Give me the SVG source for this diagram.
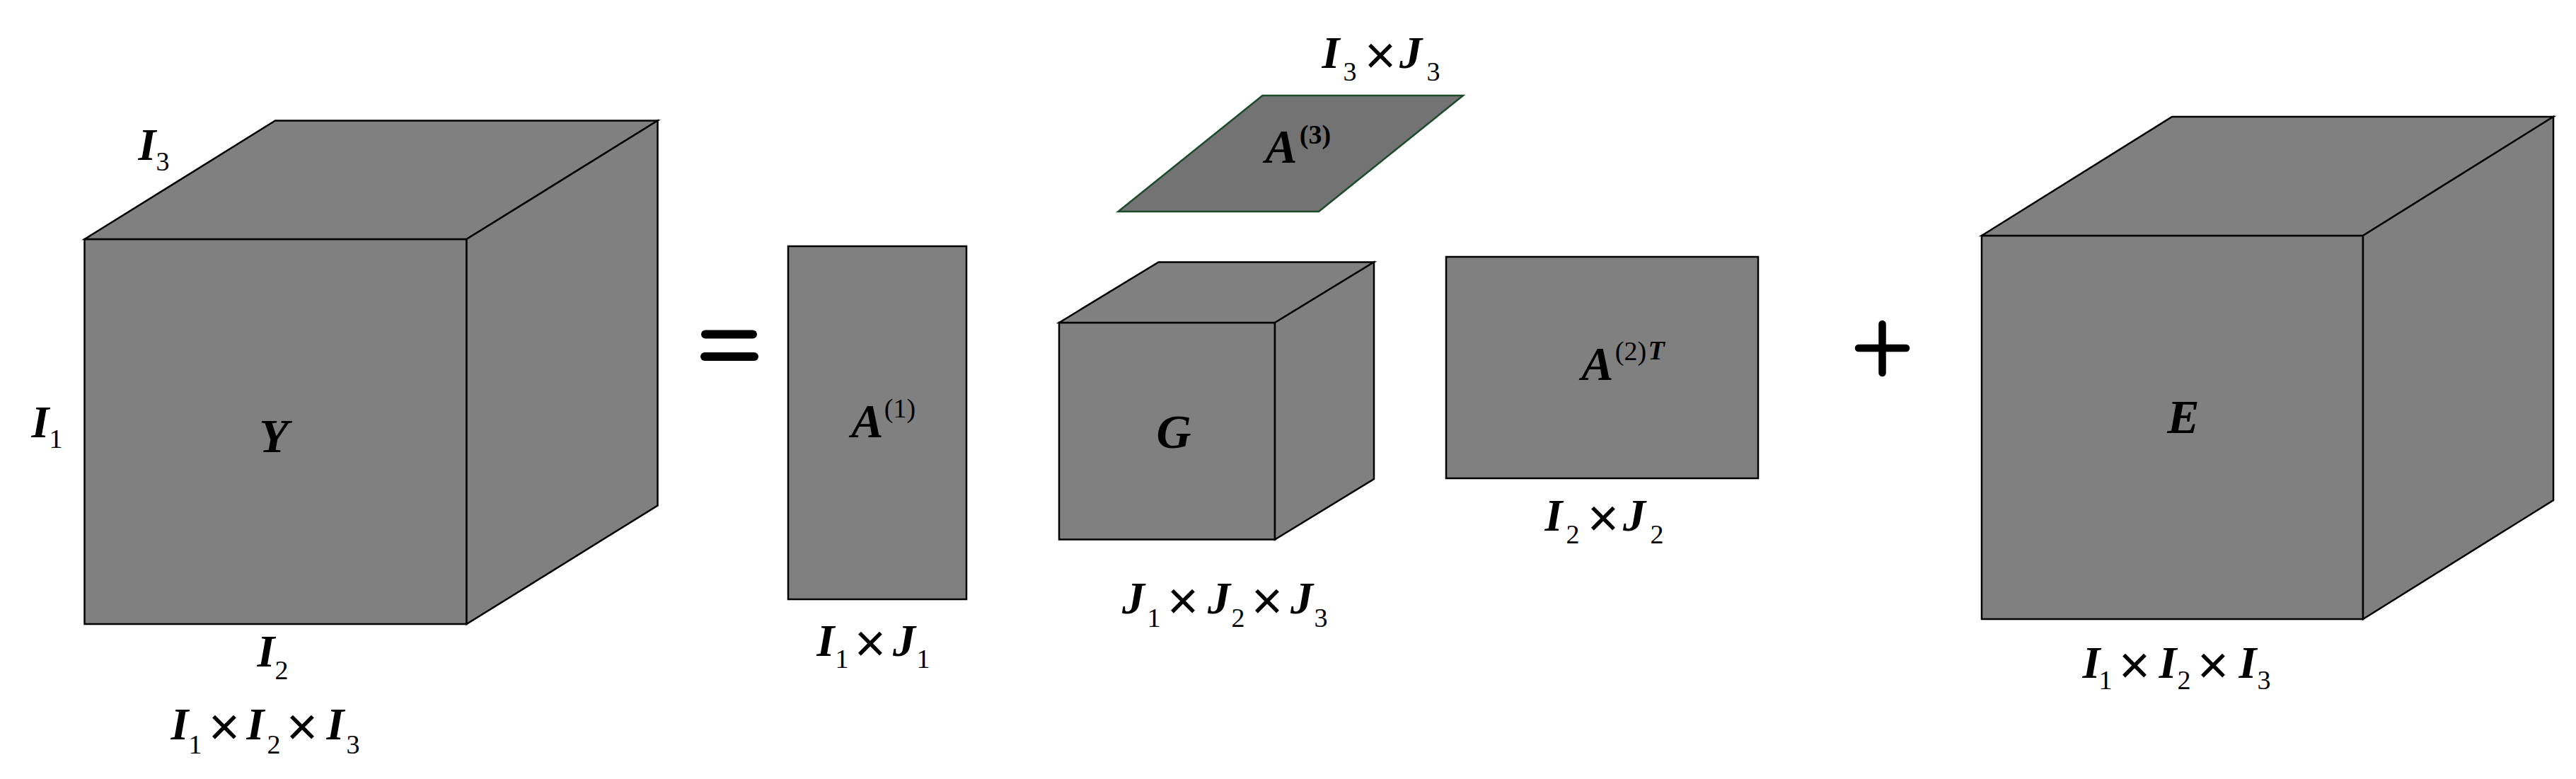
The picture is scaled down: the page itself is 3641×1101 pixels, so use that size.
<svg xmlns="http://www.w3.org/2000/svg" width="3641" height="1101" viewBox="0 0 3641 1101">
<style>
.face{fill:#808080;stroke:#000;stroke-width:2.5;stroke-linejoin:miter}
.slab{fill:#737373;stroke:#1d4a2c;stroke-width:2.5}
text{font-family:"Liberation Serif","Times New Roman",serif;fill:#000;text-anchor:middle}
.m{font-weight:bold;font-style:italic;font-size:64px}
.b{font-weight:bold;font-style:italic;font-size:68px}
.s{font-size:38px}
.p{font-size:38px}
.pb{font-size:38px;font-weight:bold}
.t{font-size:38px;font-style:italic;font-weight:bold}
.x{font-family:"Liberation Sans",Arial,sans-serif;font-size:76px}
.op{stroke:#000;stroke-linecap:round;fill:none}
</style>
<rect width="3641" height="1101" fill="#fff"/>

<g id="node-Y">
<rect class="face" x="119.5" y="338" width="540" height="544"/>
<polygon class="face" points="119.5,338 389,170.5 929.5,170.5 659.5,338"/>
<polygon class="face" points="659.5,338 929.5,170.5 929.5,714.5 659.5,882"/>
<text class="b" x="387" y="639">Y</text>
<text class="m" x="208" y="226">I</text><text class="s" x="230" y="241">3</text>
<text class="m" x="57" y="618">I</text><text class="s" x="79" y="633">1</text>
<text class="m" x="376" y="942">I</text><text class="s" x="398" y="960">2</text>
<text class="m" x="254" y="1045">I</text><text class="s" x="276" y="1065">1</text>
<text class="x" x="317" y="1053">×</text>
<text class="m" x="361" y="1045">I</text><text class="s" x="387" y="1065">2</text>
<text class="x" x="427" y="1053">×</text>
<text class="m" x="474" y="1045">I</text><text class="s" x="499" y="1065">3</text>
</g>

<g id="operators">
<line class="op" x1="997" y1="472.5" x2="1064" y2="472.5" stroke-width="12"/>
<line class="op" x1="996" y1="504" x2="1066" y2="504" stroke-width="12"/>
<line class="op" x1="2627" y1="492" x2="2694" y2="492" stroke-width="10.5"/>
<line class="op" x1="2660.5" y1="458" x2="2660.5" y2="527" stroke-width="10.5"/>
</g>

<g id="node-A1">
<rect class="face" x="1114" y="348" width="252" height="499"/>
<text class="b" x="1226" y="618">A</text><text class="p" x="1272" y="590">(1)</text>
<text class="m" x="1167" y="927">I</text><text class="s" x="1190" y="944">1</text>
<text class="x" x="1230" y="935">×</text>
<text class="m" x="1278" y="927">J</text><text class="s" x="1305" y="944">1</text>
</g>

<g id="node-A3">
<polygon class="slab" points="1580.5,299 1784.5,135 2068,135 1864,299"/>
<text class="b" x="1811" y="230">A</text><text class="pb" x="1859" y="203">(3)</text>
<text class="m" x="1881" y="96">I</text><text class="s" x="1908" y="114">3</text>
<text class="x" x="1951" y="104">×</text>
<text class="m" x="1994" y="96">J</text><text class="s" x="2026" y="114">3</text>
</g>

<g id="node-G">
<rect class="face" x="1497" y="456" width="305" height="306.5"/>
<polygon class="face" points="1497,456 1637.5,370.5 1942,370.5 1802,456"/>
<polygon class="face" points="1802,456 1942,370.5 1942,677 1802,762.5"/>
<text class="b" x="1659" y="633">G</text>
<text class="m" x="1602" y="867">J</text><text class="s" x="1631" y="886">1</text>
<text class="x" x="1672" y="875">×</text>
<text class="m" x="1723" y="867">J</text><text class="s" x="1750" y="886">2</text>
<text class="x" x="1791" y="875">×</text>
<text class="m" x="1840" y="867">J</text><text class="s" x="1867" y="886">3</text>
</g>

<g id="node-A2T">
<rect class="face" x="2044" y="363" width="441" height="313"/>
<text class="b" x="2258" y="537">A</text><text class="p" x="2305" y="509">(2)</text><text class="t" x="2341" y="508">T</text>
<text class="m" x="2196" y="750">I</text><text class="s" x="2223" y="768">2</text>
<text class="x" x="2266" y="758">×</text>
<text class="m" x="2310" y="750">J</text><text class="s" x="2342" y="768">2</text>
</g>

<g id="node-E">
<rect class="face" x="2801" y="333" width="539" height="542"/>
<polygon class="face" points="2801,333 3070,165 3609,165 3340,333"/>
<polygon class="face" points="3340,333 3609,165 3609,707 3340,875"/>
<text class="b" x="3086" y="612">E</text>
<text class="m" x="2956" y="958">I</text><text class="s" x="2976" y="974">1</text>
<text class="x" x="3017" y="966">×</text>
<text class="m" x="3064" y="958">I</text><text class="s" x="3087" y="974">2</text>
<text class="x" x="3128" y="966">×</text>
<text class="m" x="3177" y="958">I</text><text class="s" x="3200" y="974">3</text>
</g>
</svg>
